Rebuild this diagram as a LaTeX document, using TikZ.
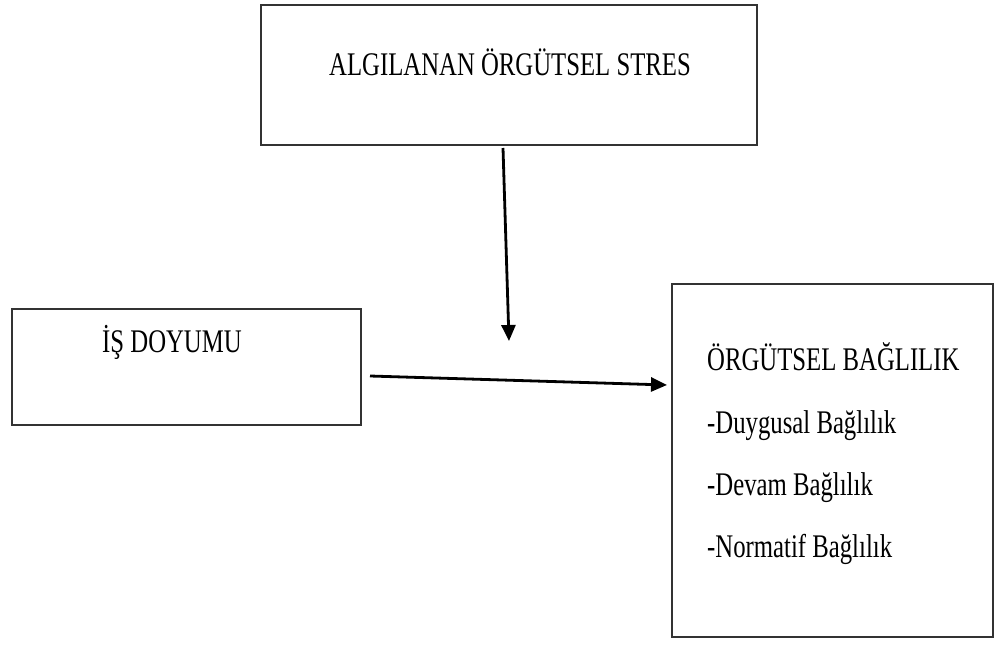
\documentclass[tikz,border=0pt]{standalone}
\usepackage{fontspec}
\setmainfont{Liberation Serif}[FakeStretch=0.75]
\usetikzlibrary{arrows.meta}
\begin{document}
\begin{tikzpicture}[x=1pt,y=-1pt,
  boxstyle/.style={draw=black!80,line width=1.6pt,fill=none},
  lbl/.style={anchor=base west,inner sep=0pt,font=\fontsize{33}{36}\selectfont},
  conn/.style={line width=2.8pt,-{Triangle[length=16pt,width=14pt]}}]
\useasboundingbox[fill=white] (0,0) rectangle (994,648);
% boxes
\node[boxstyle,minimum width=496pt,minimum height=140pt,inner sep=0pt] (stress) at (509,75) {};
\node[boxstyle,minimum width=349pt,minimum height=116pt,inner sep=0pt] (doyum) at (186.5,367) {};
\node[boxstyle,minimum width=321pt,minimum height=353pt,inner sep=0pt] (bag) at (832.5,460.5) {};
% texts
\node[lbl] (t1) at (329,75) {ALGILANAN ÖRGÜTSEL STRES};
\node[lbl] (t2) at (102,352) {İŞ DOYUMU};
\node[lbl] (t3) at (707,370) {ÖRGÜTSEL BAĞLILIK};
\node[lbl] (t4) at (707,433) {-Duygusal Bağlılık};
\node[lbl] (t5) at (707,495) {-Devam Bağlılık};
\node[lbl] (t6) at (707,557) {-Normatif Bağlılık};
% connectors
\coordinate (a1s) at (503,148);
\coordinate (a1e) at (509,341);
\coordinate (a2s) at (370,376);
\coordinate (a2e) at (667,385);
\draw[conn] (a1s) -- (a1e);
\draw[conn] (a2s) -- (a2e);
\end{tikzpicture}
\end{document}
